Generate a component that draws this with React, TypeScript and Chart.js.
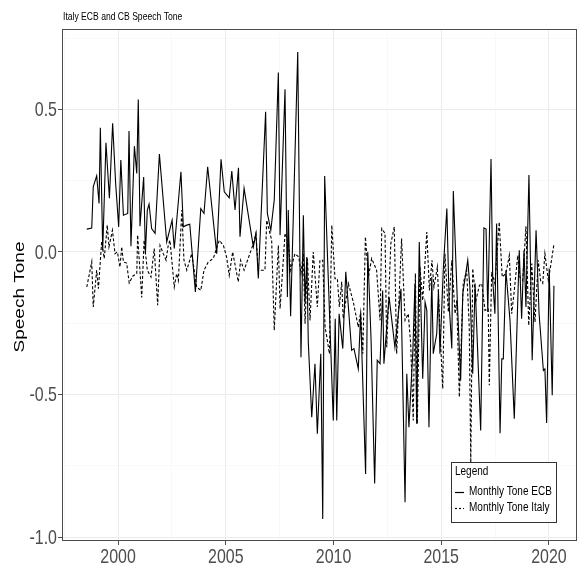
import { useEffect, useRef } from "react";
import { Chart, registerables } from "chart.js";

Chart.register(...registerables);

const chartTitle = "Italy ECB and CB Speech Tone";
const yAxisTitle = "Speech Tone";
const legendTitle = "Legend";
const seriesLabels = ["Monthly Tone ECB", "Monthly Tone Italy"];

const xMajorTicks = [2000, 2005, 2010, 2015, 2020];
const xMinorTicks = [1997.5, 2002.5, 2007.5, 2012.5, 2017.5];
const yMajorTicks = [-1.0, -0.5, 0.0, 0.5];
const yMinorTicks = [-0.75, -0.25, 0.25, 0.75];

const ecbDates = [
  1998.55, 1998.78, 1998.85, 1999.01, 1999.12, 1999.18, 1999.29, 1999.44, 1999.6, 1999.75,
  1999.89, 2000.03, 2000.13, 2000.25, 2000.45, 2000.51, 2000.6, 2000.76, 2000.87, 2000.94,
  2001.02, 2001.19, 2001.27, 2001.36, 2001.44, 2001.56, 2001.72, 2001.92, 2002.26, 2002.51,
  2002.61, 2002.92, 2003.03, 2003.19, 2003.33, 2003.59, 2003.84, 2003.99, 2004.16, 2004.58,
  2004.78, 2004.93, 2005.16, 2005.28, 2005.43, 2005.59, 2005.66, 2005.85, 2006.28, 2006.4,
  2006.51, 2006.85, 2006.93, 2007.09, 2007.25, 2007.44, 2007.52, 2007.75, 2007.86, 2007.9,
  2008.01, 2008.34, 2008.49, 2008.6, 2008.68, 2008.76, 2008.83, 2008.99, 2009.14, 2009.25,
  2009.41, 2009.5, 2009.59, 2009.99, 2010.08, 2010.15, 2010.26, 2010.43, 2010.57, 2010.84,
  2010.95, 2011.15, 2011.26, 2011.49, 2011.59, 2011.74, 2011.91, 2012.03, 2012.16, 2012.28,
  2012.34, 2012.47, 2012.58, 2012.85, 2013.13, 2013.32, 2013.4, 2013.5, 2013.68, 2013.78,
  2013.86, 2013.98, 2014.14, 2014.25, 2014.33, 2014.43, 2014.56, 2014.63, 2014.79, 2014.87,
  2014.94, 2015.1, 2015.26, 2015.37, 2015.49, 2015.56, 2015.75, 2015.9, 2016.0, 2016.23,
  2016.33, 2016.46, 2016.57, 2016.83, 2016.98, 2017.08, 2017.16, 2017.31, 2017.39, 2017.49,
  2017.57, 2017.73, 2017.81, 2017.88, 2018.0, 2018.19, 2018.39, 2018.62, 2018.73, 2018.84,
  2018.93, 2019.07, 2019.22, 2019.4, 2019.54, 2019.74, 2019.81, 2019.89, 2020.01, 2020.15,
  2020.23,
];
const ecbTone = [
  0.08, 0.084, 0.228, 0.267, 0.17, 0.436, 0.006, 0.383, 0.188, 0.451,
  0.24, 0.088, 0.322, 0.129, 0.135, 0.424, 0.02, 0.371, 0.275, 0.535,
  0.09, 0.263, -0.006, 0.147, 0.168, 0.082, 0.065, 0.343, 0.035, 0.111,
  0.012, 0.281, 0.088, 0.094, 0.097, -0.14, 0.152, 0.135, 0.299, -0.006,
  0.325, 0.211, 0.19, 0.284, 0.147, 0.295, 0.053, 0.223, 0.018, 0.065,
  -0.093, 0.492, 0.135, 0.076, 0.182, 0.629, 0.059, 0.571, -0.158, 0.147,
  -0.226, 0.701, -0.369, 0.129, -0.18, -0.018, -0.316, -0.58, -0.392, -0.638,
  -0.357, -0.937, 0.266, -0.591, -0.234, -0.591, -0.217, -0.339, -0.07, -0.345,
  -0.339, -0.41, -0.217, -0.779, 0.0, -0.3, -0.812, -0.38, -0.392, -0.135,
  -0.392, -0.264, -0.158, -0.334, -0.129, -0.878, -0.427, -0.615, -0.351, -0.111,
  -0.603, 0.035, -0.445, -0.176, -0.205, -0.615, -0.088, -0.357, -0.287, -0.135,
  -0.357, -0.053, 0.152, -0.187, -0.339, 0.214, -0.181, -0.451, -0.146, -0.029,
  -0.123, -0.427, -0.111, -0.626, 0.084, 0.08, -0.211, 0.326, -0.1, -0.217,
  0.1, -0.636, -0.375, -0.375, -0.064, -0.24, -0.585, 0.006, -0.234, 0.006,
  -0.193, 0.27, -0.38, 0.076, -0.217, -0.416, -0.41, -0.6, -0.058, -0.503,
  -0.119,
];

const italyDates = [
  1998.55, 1998.78, 1998.85, 1999.01, 1999.09, 1999.24, 1999.36, 1999.5, 1999.58, 1999.74,
  1999.86, 1999.97, 2000.09, 2000.17, 2000.25, 2000.4, 2000.52, 2000.68, 2000.87, 2000.91,
  2001.1, 2001.21, 2001.36, 2001.53, 2001.68, 2001.84, 2001.95, 2002.1, 2002.23, 2002.33,
  2002.41, 2002.61, 2002.72, 2002.8, 2002.96, 2003.06, 2003.19, 2003.42, 2003.65, 2003.84,
  2003.99, 2004.19, 2004.42, 2004.7, 2004.89, 2005.04, 2005.16, 2005.32, 2005.58, 2005.69,
  2005.85, 2006.28, 2006.4, 2006.51, 2006.82, 2006.9, 2007.13, 2007.25, 2007.44, 2007.52,
  2007.75, 2007.9, 2008.01, 2008.21, 2008.39, 2008.49, 2008.6, 2008.68, 2008.79, 2008.91,
  2009.06, 2009.25, 2009.37, 2009.5, 2009.61, 2009.69, 2009.81, 2009.92, 2010.07, 2010.18,
  2010.27, 2010.38, 2010.45, 2010.69, 2010.92, 2011.15, 2011.26, 2011.36, 2011.48, 2011.62,
  2011.77, 2012.0, 2012.16, 2012.24, 2012.39, 2012.47, 2012.66, 2012.82, 2012.93, 2013.16,
  2013.32, 2013.47, 2013.58, 2013.7, 2013.8, 2013.89, 2014.01, 2014.14, 2014.33, 2014.45,
  2014.57, 2014.66, 2014.82, 2014.94, 2015.07, 2015.17, 2015.33, 2015.49, 2015.64, 2015.72,
  2015.84, 2016.02, 2016.18, 2016.3, 2016.37, 2016.46, 2016.61, 2016.77, 2016.88, 2017.03,
  2017.18, 2017.23, 2017.34, 2017.49, 2017.69, 2017.83, 2018.0, 2018.16, 2018.27, 2018.39,
  2018.55, 2018.65, 2018.78, 2018.93, 2019.06, 2019.2, 2019.35, 2019.5, 2019.61, 2019.71,
  2019.81, 2019.97, 2020.08, 2020.23,
];
const italyTone = [
  -0.123, -0.035, -0.193, -0.064, -0.129, 0.035, -0.023, 0.094, 0.018, 0.076,
  -0.006, 0.0, -0.053, 0.018, -0.035, -0.039, -0.109, -0.085, -0.076, 0.059,
  -0.16, 0.041, -0.064, -0.088, 0.012, -0.187, 0.023, -0.006, -0.029, 0.023,
  0.041, -0.123, -0.076, -0.1, 0.147, -0.029, -0.064, -0.006, -0.123, -0.135,
  -0.064, -0.035, -0.023, 0.041, 0.023, -0.018, -0.082, 0.0, -0.105, -0.029,
  -0.064, 0.029, 0.065, -0.064, -0.064, 0.111, 0.041, -0.275, 0.023, -0.199,
  0.065, 0.041, -0.064, -0.006, -0.018, -0.076, -0.006, -0.252, -0.023, -0.24,
  0.0, -0.193, -0.029, -0.029, -0.264, -0.299, -0.357, 0.094, -0.094, -0.094,
  -0.193, -0.105, -0.234, -0.111, -0.176, -0.264, -0.211, -0.357, 0.053, -0.088,
  -0.023, -0.064, -0.24, 0.082, 0.065, -0.334, 0.029, 0.088, -0.357, 0.047,
  -0.24, -0.217, -0.322, -0.591, -0.076, -0.603, -0.053, -0.17, 0.07, -0.135,
  -0.029, -0.123, -0.053, -0.275, -0.48, -0.006, -0.211, -0.029, -0.217, -0.17,
  -0.509, -0.111, -0.064, -0.264, -0.74, -0.058, -0.17, -0.117, -0.111, -0.205,
  -0.2, -0.468, -0.07, -0.111, 0.105, -0.088, -0.076, -0.012, -0.217, -0.135,
  -0.012, -0.088, -0.1, 0.09, -0.258, -0.041, -0.246, -0.029, -0.1, -0.11,
  -0.006, -0.1, -0.047, 0.027,
];

const SANS = "'Liberation Sans', Arial, sans-serif";
const SQUEEZE = 0.76;

const isXMajor = (v: number) => Math.abs(v / 5 - Math.round(v / 5)) < 1e-9;
const isYMajor = (v: number) => Math.abs(v * 2 - Math.round(v * 2)) < 1e-9;

function squeezedText(ctx: any, text: string, x: number, y: number, align: string, sx: number) {
  ctx.save();
  ctx.translate(x, y);
  ctx.scale(sx, 1);
  ctx.textAlign = align;
  ctx.fillText(text, 0, 0);
  ctx.restore();
}

const decorPlugin = {
  id: "decor",
  afterDraw(chart: any) {
    const { ctx, chartArea } = chart;
    const { left, right, top, bottom } = chartArea;
    const xs = chart.scales.x;
    const ys = chart.scales.y;
    ctx.save();
    // panel border
    ctx.strokeStyle = "#4d4d4d";
    ctx.lineWidth = 1;
    ctx.strokeRect(left + 0.5, top + 0.5, right - left - 1, bottom - top - 1);

    // tick labels
    ctx.fillStyle = "#4d4d4d";
    ctx.font = `21px ${SANS}`;
    ctx.textBaseline = "alphabetic";
    xMajorTicks.forEach((v) => {
      squeezedText(ctx, String(v), xs.getPixelForValue(v), 563, "center", SQUEEZE);
    });
    ctx.textBaseline = "middle";
    yMajorTicks.forEach((v) => {
      squeezedText(ctx, v.toFixed(1), 57, ys.getPixelForValue(v) + 1, "right", SQUEEZE);
    });

    // title
    ctx.fillStyle = "#000";
    ctx.font = `11px ${SANS}`;
    ctx.textBaseline = "middle";
    squeezedText(ctx, chartTitle, left + 1, 17, "left", 0.78);

    // y title
    ctx.save();
    ctx.translate(20, 297);
    ctx.scale(0.8, 1);
    ctx.rotate(-Math.PI / 2);
    ctx.font = `19px ${SANS}`;
    ctx.textAlign = "center";
    ctx.textBaseline = "middle";
    ctx.fillText(yAxisTitle, 0, 0);
    ctx.restore();

    // legend
    const bx = 451;
    const by = 462;
    const bw = 105;
    const bh = 60;
    ctx.fillStyle = "#fff";
    ctx.fillRect(bx, by, bw, bh);
    ctx.strokeStyle = "#333";
    ctx.lineWidth = 1;
    ctx.strokeRect(bx + 0.5, by + 0.5, bw, bh);
    ctx.fillStyle = "#000";
    ctx.font = `12.5px ${SANS}`;
    ctx.textBaseline = "middle";
    squeezedText(ctx, legendTitle, bx + 4, by + 10, "left", 0.8);
    const dashes = [[], [2, 2]];
    seriesLabels.forEach((label, i) => {
      const y = by + 30 + i * 16;
      ctx.strokeStyle = "#000";
      ctx.lineWidth = 1.2;
      ctx.setLineDash(dashes[i]);
      ctx.beginPath();
      ctx.moveTo(bx + 4, y + 0.5);
      ctx.lineTo(bx + 13, y + 0.5);
      ctx.stroke();
      ctx.setLineDash([]);
      squeezedText(ctx, label, bx + 18, y, "left", 0.8);
    });
    ctx.restore();
  },
};

export default function App() {
  const canvasRef = useRef<HTMLCanvasElement | null>(null);

  useEffect(() => {
    document.body.style.margin = "0";
    const canvas = canvasRef.current;
    if (!canvas) return;
    const chart = new Chart(canvas, {
      type: "line",
      data: {
        datasets: [
          {
            label: seriesLabels[0],
            data: ecbDates.map((d, i) => ({ x: d, y: ecbTone[i] })),
            borderColor: "#000",
            borderWidth: 1.1,
            pointRadius: 0,
            tension: 0,
            fill: false,
          },
          {
            label: seriesLabels[1],
            data: italyDates.map((d, i) => ({ x: d, y: italyTone[i] })),
            borderColor: "#000",
            borderWidth: 1.1,
            borderDash: [3, 2],
            pointRadius: 0,
            tension: 0,
            fill: false,
          },
        ],
      },
      options: {
        responsive: false,
        animation: false,
        devicePixelRatio: 1,
        layout: { padding: { top: 29, right: 2, left: 0, bottom: 0 } },
        plugins: { legend: { display: false }, tooltip: { enabled: false }, title: { display: false } },
        scales: {
          x: {
            type: "linear",
            min: 1997.4,
            max: 2021.3,
            afterBuildTicks: (scale: any) => {
              scale.ticks = [...xMajorTicks, ...xMinorTicks].sort((a, b) => a - b).map((v) => ({ value: v }));
            },
            afterFit: (scale: any) => {
              scale.height = 29;
            },
            border: { display: false },
            grid: {
              color: (c: any) => (c.tick && isXMajor(c.tick.value) ? "#ebebeb" : "#f5f5f5"),
              lineWidth: (c: any) => (c.tick && isXMajor(c.tick.value) ? 1 : 0.6),
              tickColor: (c: any) => (c.tick && isXMajor(c.tick.value) ? "#4d4d4d" : "rgba(0,0,0,0)"),
              tickLength: 4,
            },
            ticks: { display: false },
          },
          y: {
            type: "linear",
            min: -1.014,
            max: 0.782,
            afterBuildTicks: (scale: any) => {
              scale.ticks = [...yMajorTicks, ...yMinorTicks].sort((a, b) => a - b).map((v) => ({ value: v }));
            },
            afterFit: (scale: any) => {
              scale.width = 62;
            },
            border: { display: false },
            grid: {
              color: (c: any) => (c.tick && isYMajor(c.tick.value) ? "#ebebeb" : "#f5f5f5"),
              lineWidth: (c: any) => (c.tick && isYMajor(c.tick.value) ? 1 : 0.6),
              tickColor: (c: any) => (c.tick && isYMajor(c.tick.value) ? "#4d4d4d" : "rgba(0,0,0,0)"),
              tickLength: 4,
            },
            ticks: { display: false },
          },
        },
      },
      plugins: [decorPlugin],
    });
    return () => chart.destroy();
  }, []);

  return (
    <div style={{ position: "absolute", left: 0, top: 0, width: 579, height: 570, background: "#fff" }}>
      <canvas ref={canvasRef} width={579} height={570} style={{ display: "block" }} />
    </div>
  );
}
